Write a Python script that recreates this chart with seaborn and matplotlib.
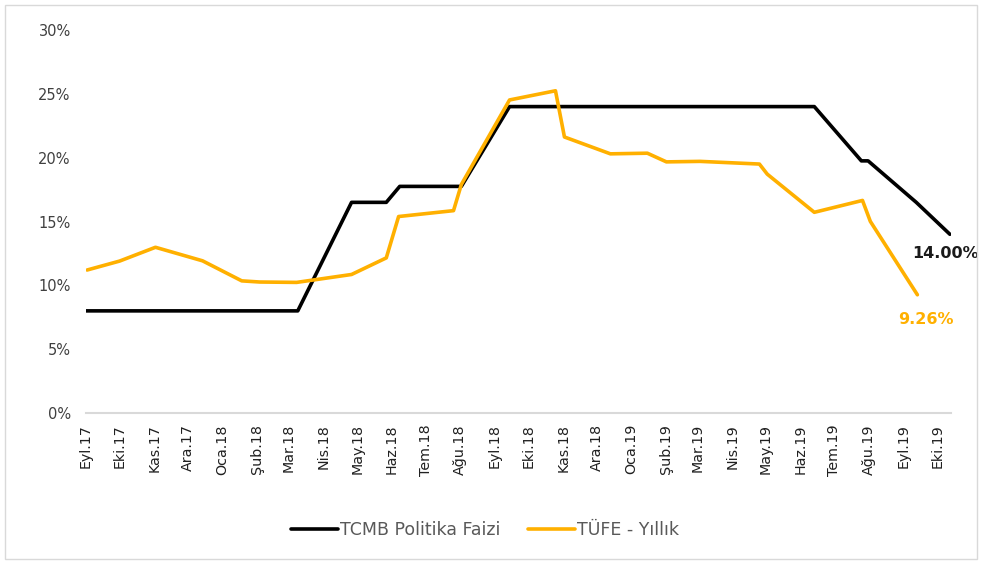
import pandas as pd
import matplotlib
matplotlib.use("Agg")
import matplotlib.pyplot as plt
from matplotlib.patches import Rectangle
import seaborn as sns

# TCMB policy rate (%), by date
policy_dates = ["2017-09-01", "2018-03-09", "2018-04-26", "2018-05-27", "2018-06-08",
                "2018-08-02", "2018-09-14", "2019-06-13", "2019-07-25", "2019-07-31",
                "2019-09-12", "2019-10-12"]
policy_rate = [8.00, 8.00, 16.50, 16.50, 17.75, 17.75, 24.00, 24.00, 19.75, 19.75, 16.50, 14.00]

# CPI annual (%), by date
cpi_dates = ["2017-09-02", "2017-10-01", "2017-11-02", "2017-12-14", "2018-01-18",
             "2018-02-03", "2018-03-08", "2018-04-26", "2018-05-27", "2018-06-07",
             "2018-07-26", "2018-08-02", "2018-09-14", "2018-10-25", "2018-11-02",
             "2018-12-13", "2019-01-15", "2019-02-01", "2019-03-03", "2019-04-25",
             "2019-05-02", "2019-06-13", "2019-07-26", "2019-08-02", "2019-09-13"]
cpi_rate = [11.20, 11.90, 12.98, 11.92, 10.35, 10.26, 10.23, 10.85, 12.15, 15.39,
            15.85, 17.90, 24.52, 25.24, 21.62, 20.30, 20.35, 19.67, 19.71, 19.50,
            18.71, 15.72, 16.65, 15.01, 9.26]

month_labels = ["Eyl.17", "Eki.17", "Kas.17", "Ara.17", "Oca.18", "Şub.18", "Mar.18",
                "Nis.18", "May.18", "Haz.18", "Tem.18", "Ağu.18", "Eyl.18", "Eki.18",
                "Kas.18", "Ara.18", "Oca.19", "Şub.19", "Mar.19", "Nis.19", "May.19",
                "Haz.19", "Tem.19", "Ağu.19", "Eyl.19", "Eki.19"]

series_names = ["TCMB Politika Faizi", "TÜFE - Yıllık"]
colors = {"TCMB Politika Faizi": "#000000", "TÜFE - Yıllık": "#FFB000"}

df = pd.concat([
    pd.DataFrame({"date": pd.to_datetime(policy_dates), "value": policy_rate, "series": series_names[0]}),
    pd.DataFrame({"date": pd.to_datetime(cpi_dates), "value": cpi_rate, "series": series_names[1]}),
])

sns.set_style("white")
plt.rcParams["font.family"] = ["DejaVu Sans"]

fig = plt.figure(figsize=(9.82, 5.63), dpi=100)
ax = fig.add_axes([86 / 982, 1 - 413 / 563, (951 - 86) / 982, (413 - 30) / 563])

sns.lineplot(data=df, x="date", y="value", hue="series", palette=colors,
             linewidth=2.6, ax=ax, legend=False, sort=False, estimator=None)

# axes styling
ax.set_ylim(0, 30)
ax.set_yticks(range(0, 31, 5))
ax.set_yticklabels([f"{v}%" for v in range(0, 31, 5)], fontsize=10.5, color="#404040")
ticks = pd.date_range("2017-09-01", "2019-10-01", freq="MS")
ax.set_xticks(ticks)
ax.set_xticklabels(month_labels, rotation=90, fontsize=10.3, color="#202020")
ax.set_xlim(pd.Timestamp("2017-09-01"), pd.Timestamp("2019-10-13"))
ax.set_xlabel("")
ax.set_ylabel("")
for s in ["top", "right", "left"]:
    ax.spines[s].set_visible(False)
ax.spines["bottom"].set_color("#d9d9d9")
ax.spines["bottom"].set_linewidth(1.5)
ax.tick_params(axis="x", length=4, color="#d9d9d9", width=1.2, pad=4)
ax.tick_params(axis="y", length=0, pad=11)

# end labels
ax.annotate(f"{policy_rate[-1]:.2f}%", (pd.to_datetime(policy_dates[-1]), policy_rate[-1]),
            xytext=(-3, -14), textcoords="offset points", ha="center", va="center",
            fontsize=11.5, fontweight="bold", color="#1a1a1a", annotation_clip=False)
ax.annotate(f"{cpi_rate[-1]:.2f}%", (pd.to_datetime(cpi_dates[-1]), cpi_rate[-1]),
            xytext=(6, -18), textcoords="offset points", ha="center", va="center",
            fontsize=11.5, fontweight="bold", color="#FFB000", annotation_clip=False)

# legend
handles = [plt.Line2D([], [], color=colors[n], linewidth=2.6) for n in series_names]
fig.legend(handles, series_names, loc="center", bbox_to_anchor=(485 / 982, 1 - 530 / 563),
           ncol=2, frameon=False, fontsize=12.5, handlelength=2.7, handletextpad=0.1,
           columnspacing=1.6, labelcolor="#595959")

# thin outer frame
fig.patches.append(Rectangle((5 / 982, 4 / 563), 972 / 982, 554 / 563, transform=fig.transFigure,
                             fill=False, edgecolor="#d9d9d9", linewidth=1))

fig.savefig("out.png", dpi=100)
